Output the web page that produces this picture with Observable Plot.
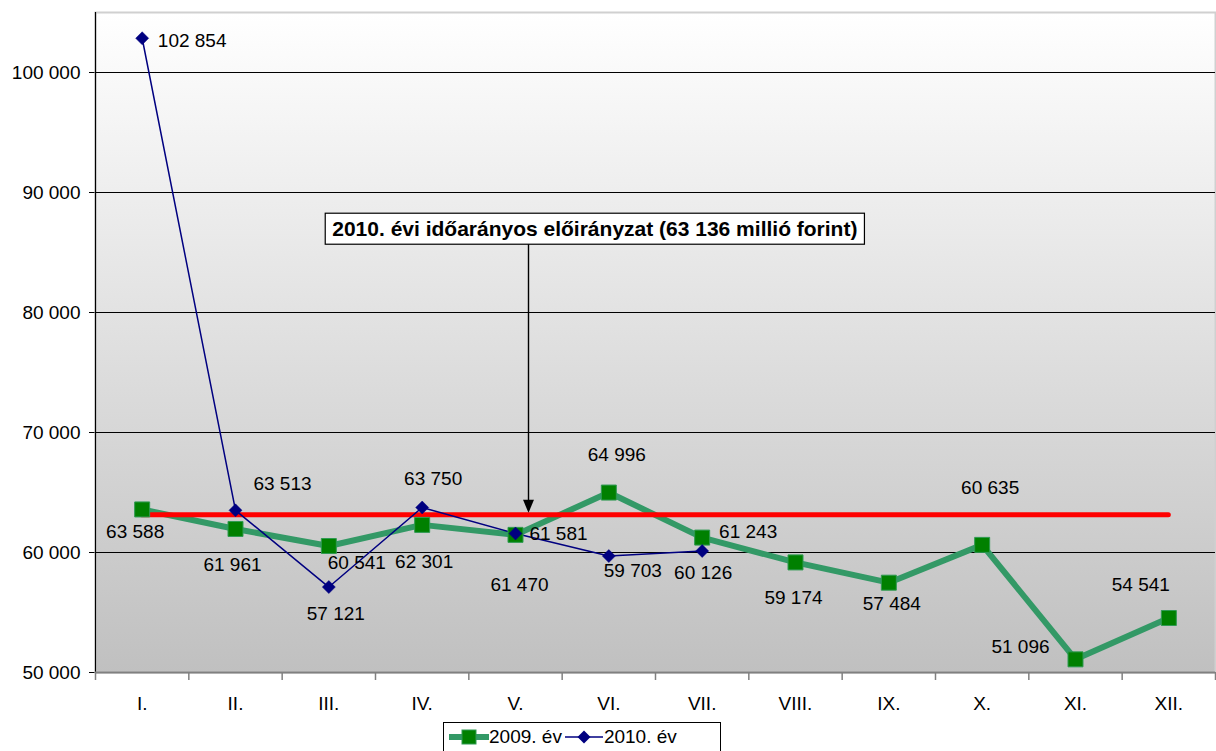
<!DOCTYPE html>
<html>
<head>
<meta charset="utf-8">
<script src="https://cdn.jsdelivr.net/npm/d3@7"></script>
<script src="https://cdn.jsdelivr.net/npm/@observablehq/plot@0.6"></script>
<style>
  html, body { margin: 0; padding: 0; background: #ffffff; }
  body { width: 1216px; height: 751px; overflow: hidden; position: relative; font-family: "Liberation Sans", Arial, sans-serif; }
  #chart { position: absolute; left: 0; top: 0; }
  #legend { position: absolute; left: 443px; top: 722px; width: 278px; height: 36px; border: 1px solid #000; background: #fff;
            display: flex; align-items: flex-start; font-size: 19px; color: #000; box-sizing: border-box; padding-left: 5px; padding-top: 3px; }
  #legend .item { display: flex; align-items: center; margin-right: 2px; }
  #legend svg { display: block; }
</style>
</head>
<body>
<div id="chart"></div>
<div id="legend"></div>
<script>
// ---- data ----
const months = ["I.", "II.", "III.", "IV.", "V.", "VI.", "VII.", "VIII.", "IX.", "X.", "XI.", "XII."];
const values2009 = [63588, 61961, 60541, 62301, 61470, 64996, 61243, 59174, 57484, 60635, 51096, 54541];
const values2010 = [102854, 63513, 57121, 63750, 61581, 59703, 60126];
const target = 63136;
const yTicks = [50000, 60000, 70000, 80000, 90000, 100000];
const seriesNames = ["2009. év", "2010. év"];
const annotationText = "2010. évi időarányos előirányzat (63 136 millió forint)";
const annotationY = 86917;
const arrowTopY = 85583;

// label offsets (pixels) as Excel placed them
const labelOffsets2009 = [[-7, 22], [-3, 36], [28, 17], [2, 37], [4, 50], [8, -38], [46, -6], [-2, 35], [3, 21], [8, -57], [-55, -12], [-28, -33]];
const labelOffsets2010 = [[50, 3], [47, -26], [7, 27], [11, -29], [43, 0], [24, 15], [1, 22]];

// ---- layout ----
const W = 1216, H = 718;
const mL = 95, mR = 1, mT = 12, mB = 46;
const step = (W - mL - mR) / months.length;

const fmt = v => d3.format(",")(v).replace(/,/g, " ");
const d2009 = values2009.map((v, i) => ({month: months[i], value: v, dx: labelOffsets2009[i][0], dy: labelOffsets2009[i][1]}));
const d2010 = values2010.map((v, i) => ({month: months[i], value: v, dx: labelOffsets2010[i][0], dy: labelOffsets2010[i][1]}));

const squareSym = {draw(ctx, size) { const r = Math.sqrt(size / Math.PI); ctx.moveTo(-r, -r); ctx.lineTo(r, -r); ctx.lineTo(r, r); ctx.lineTo(-r, r); ctx.closePath(); }};
const diamondSym = {draw(ctx, size) { const r = Math.sqrt(size / Math.PI); ctx.moveTo(0, -r); ctx.lineTo(r, 0); ctx.lineTo(0, r); ctx.lineTo(-r, 0); ctx.closePath(); }};
// arrow head: tip at the origin, pointing down
const arrowHeadSym = {draw(ctx, size) { const r = Math.sqrt(size / Math.PI); ctx.moveTo(0, 0); ctx.lineTo(-r * 0.42, -r); ctx.lineTo(r * 0.42, -r); ctx.closePath(); }};

const green = "#339966", greenFill = "#008000", navy = "#000080";

const labelMarks = (data) => data.map(d => Plot.text([d], {
  x: "month", y: "value", text: d => fmt(d.value), dx: d.dx, dy: d.dy,
  fill: "#000", fontSize: 19, textAnchor: "middle", lineAnchor: "middle"
}));

const chart = Plot.plot({
  width: W, height: H,
  marginLeft: mL, marginRight: mR, marginTop: mT, marginBottom: mB,
  style: {fontFamily: "'Liberation Sans', Arial, sans-serif", fontSize: "19px", color: "#000", background: "transparent", overflow: "visible"},
  x: {type: "point", domain: months, padding: 0.5, round: false, tickSize: 0, tickPadding: 24, label: null},
  y: {domain: [50000, 105000], ticks: yTicks, tickFormat: fmt, tickSize: 6, tickPadding: 9, label: null},
  marks: [
    Plot.frame({fill: "url(#bgGrad)", stroke: "#d0d0d0", strokeWidth: 2}),
    Plot.ruleY(yTicks.filter(t => t > 50000), {stroke: "#000", strokeWidth: 1}),
    Plot.ruleX(["I."], {dx: -step / 2, stroke: "#000", strokeWidth: 1.2}),
    Plot.ruleY([50000], {stroke: "#808080", strokeWidth: 2}),
    Plot.ruleX(months, {y1: 50000, y2: 49333, dx: -step / 2, stroke: "#808080", strokeWidth: 1.5}),
    Plot.ruleX(["XII."], {y1: 50000, y2: 49333, dx: step / 2, stroke: "#808080", strokeWidth: 1.5}),
    Plot.line(d2009, {x: "month", y: "value", stroke: green, strokeWidth: 6}),
    Plot.ruleY([target], {x1: () => months[0], x2: () => months[months.length - 1], stroke: "#ff0000", strokeWidth: 5, strokeLinecap: "round"}),
    Plot.line(d2010, {x: "month", y: "value", stroke: navy, strokeWidth: 1.5}),
    Plot.dot(d2009, {x: "month", y: "value", symbol: squareSym, r: 7.5, fill: greenFill, stroke: "#2f9a52", strokeWidth: 1}),
    Plot.dot(d2010, {x: "month", y: "value", symbol: diamondSym, r: 6.5, fill: navy, stroke: navy, strokeWidth: 0.5}),
    ...labelMarks(d2009),
    ...labelMarks(d2010),
    Plot.ruleX([{m: "V.", y1: arrowTopY, y2: target}], {x: "m", y1: "y1", y2: "y2", dx: 13, dy: -4, stroke: "#000", strokeWidth: 1.4}),
    Plot.dot([{m: "V.", y: target}], {x: "m", y: "y", dx: 13, dy: -2, symbol: arrowHeadSym, r: 13, fill: "#000", stroke: "none"}),
    Plot.text([{m: "VI.", y: annotationY}], {x: "m", y: "y", dx: -14, text: () => annotationText, fontWeight: "bold", fontSize: 21, textAnchor: "middle", lineAnchor: "middle", fill: "#000"})
  ]
});

document.getElementById("chart").appendChild(chart);

// gradient definition for plot background
const ns = "http://www.w3.org/2000/svg";
const defs = document.createElementNS(ns, "defs");
defs.innerHTML = '<linearGradient id="bgGrad" x1="0" y1="0" x2="0" y2="1"><stop offset="0" stop-color="#ffffff"/><stop offset="1" stop-color="#c0c0c0"/></linearGradient>';
chart.insertBefore(defs, chart.firstChild);

// box around annotation text
const annText = Array.from(chart.querySelectorAll("text")).find(t => t.textContent === annotationText);
if (annText) {
  const bb = annText.getBBox();
  const tr = annText.getAttribute("transform");
  const rect = document.createElementNS(ns, "rect");
  const padX = 7, padY = 4;
  rect.setAttribute("x", bb.x - padX);
  rect.setAttribute("y", bb.y - padY);
  rect.setAttribute("width", bb.width + 2 * padX);
  rect.setAttribute("height", bb.height + 2 * padY);
  rect.setAttribute("fill", "#ffffff");
  rect.setAttribute("stroke", "#000");
  rect.setAttribute("stroke-width", "1.2");
  if (tr) rect.setAttribute("transform", tr);
  annText.parentNode.insertBefore(rect, annText);
}

// legend
const legend = document.getElementById("legend");
const sw = (kind) => {
  const s = d3.create("svg").attr("width", 40).attr("height", 20);
  if (kind === 0) {
    s.append("line").attr("x1", 1).attr("x2", 39).attr("y1", 10).attr("y2", 10).attr("stroke", green).attr("stroke-width", 6).attr("stroke-linecap", "round");
    s.append("rect").attr("x", 13).attr("y", 3).attr("width", 14).attr("height", 14).attr("fill", greenFill).attr("stroke", "#2f9a52");
  } else {
    s.append("line").attr("x1", 1).attr("x2", 39).attr("y1", 10).attr("y2", 10).attr("stroke", navy).attr("stroke-width", 1.5);
    s.append("path").attr("d", "M20,3.5L26.5,10L20,16.5L13.5,10Z").attr("fill", navy);
  }
  return s.node();
};
seriesNames.forEach((name, i) => {
  const item = document.createElement("div");
  item.className = "item";
  item.appendChild(sw(i));
  const span = document.createElement("span");
  span.textContent = name;
  item.appendChild(span);
  legend.appendChild(item);
});
</script>
</body>
</html>
